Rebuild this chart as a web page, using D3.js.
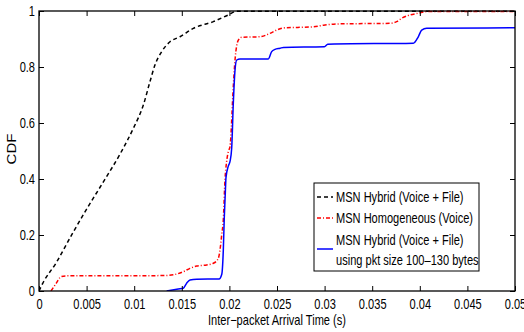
<!DOCTYPE html>
<html>
<head>
<meta charset="utf-8">
<script src="https://cdn.jsdelivr.net/npm/d3@7"></script>
<style>
  html, body { margin: 0; padding: 0; background: #fff; }
  svg { display: block; }
  text { font-family: "Liberation Sans", Arial, Helvetica, sans-serif; fill: #000; }
</style>
</head>
<body>
<svg id="chart" width="524" height="332"></svg>
<script>
// Inter-packet arrival time CDFs (seconds, cumulative fraction)
const hybridX = [0, 0.00039, 0.00179, 0.00354, 0.00494, 0.00669, 0.00856, 0.00991, 0.01096, 0.01166, 0.01218, 0.01289, 0.01376, 0.01481, 0.01621, 0.01831, 0.01989, 0.02077, 0.05];
const hybridY = [0, 0.0275, 0.1, 0.207, 0.289, 0.386, 0.492, 0.581, 0.664, 0.748, 0.807, 0.855, 0.890, 0.908, 0.938, 0.962, 0.986, 0.999, 0.999];

const homogX = [0.00126, 0.0018, 0.00231, 0.0028, 0.0130, 0.0141, 0.01516, 0.01586, 0.01656, 0.01761, 0.01831, 0.01884, 0.01901, 0.01919, 0.01936, 0.01954, 0.0197, 0.0199, 0.02006, 0.02041, 0.02059, 0.02094, 0.02129, 0.02321, 0.02426, 0.02497, 0.02584, 0.02864, 0.03004, 0.03162, 0.03687, 0.03757, 0.0381, 0.03897, 0.03984, 0.04072, 0.05];
const homogY = [0, 0.027, 0.051, 0.054, 0.055, 0.058, 0.069, 0.081, 0.089, 0.093, 0.099, 0.117, 0.146, 0.2, 0.254, 0.40, 0.46, 0.50, 0.515, 0.73, 0.825, 0.896, 0.906, 0.908, 0.92, 0.932, 0.94, 0.943, 0.95, 0.954, 0.956, 0.962, 0.974, 0.986, 0.992, 0.998, 0.998];

const smallPktX = [0.01341, 0.01463, 0.01516, 0.01551, 0.01586, 0.01657, 0.01891, 0.0192, 0.01936, 0.01946, 0.01957, 0.01964, 0.01989, 0.02006, 0.02024, 0.02041, 0.02059, 0.02077, 0.02111, 0.02409, 0.02444, 0.02479, 0.02532, 0.02567, 0.02998, 0.03033, 0.03105, 0.03932, 0.03984, 0.0402, 0.04072, 0.05];
const smallPktY = [0, 0.007, 0.01, 0.028, 0.039, 0.042, 0.043, 0.06, 0.146, 0.26, 0.35, 0.405, 0.447, 0.462, 0.51, 0.67, 0.789, 0.825, 0.829, 0.829, 0.855, 0.863, 0.867, 0.870, 0.8725, 0.881, 0.882, 0.885, 0.908, 0.932, 0.938, 0.94];

const xTicks = [0, 0.005, 0.01, 0.015, 0.02, 0.025, 0.03, 0.035, 0.04, 0.045, 0.05];
const xTickLabels = ["0", "0.005", "0.01", "0.015", "0.02", "0.025", "0.03", "0.035", "0.04", "0.045", "0.05"];
const yTicks = [0, 0.2, 0.4, 0.6, 0.8, 1];
const yTickLabels = ["0", "0.2", "0.4", "0.6", "0.8", "1"];

const seriesNames = ["MSN Hybrid (Voice + File)", "MSN Homogeneous (Voice)", "MSN Hybrid (Voice + File)"];
const seriesSubNames = ["", "", "using pkt size 100\u2013130 bytes"];

const series = [
  { xs: hybridX, ys: hybridY, color: "#000000", dash: "4,3" },
  { xs: homogX, ys: homogY, color: "#ff0000", dash: "4,2,1,2" },
  { xs: smallPktX, ys: smallPktY, color: "#0000ff", dash: null }
];

const svg = d3.select("#chart");
const plotL = 39, plotR = 515, plotT = 11, plotB = 291;
const fontSize = 14;
const squeeze = 0.79;   // condensed lettering

const x = d3.scaleLinear().domain([0, 0.05]).range([plotL, plotR]);
const y = d3.scaleLinear().domain([0, 1]).range([plotB, plotT]);

// curves, clipped to the frame
svg.append("clipPath").attr("id", "plotClip")
  .append("rect").attr("x", plotL).attr("y", plotT - 1).attr("width", plotR - plotL).attr("height", plotB - plotT + 1);

const line = d3.line()
  .x(d => x(d[0]))
  .y(d => y(d[1]))
  .curve(d3.curveMonotoneX);

const plot = svg.append("g").attr("clip-path", "url(#plotClip)");
series.forEach(s => {
  const pts = s.xs.map((v, i) => [v, s.ys[i]]);
  plot.append("path")
    .attr("d", line(pts))
    .attr("fill", "none")
    .attr("stroke", s.color)
    .attr("stroke-width", 1.5)
    .attr("stroke-dasharray", s.dash);
});

// axes with inward ticks on all four sides
const tickLen = 5;
const fmtX = (d, i) => xTickLabels[i];
const fmtY = (d, i) => yTickLabels[i];

const axBottom = svg.append("g").attr("transform", `translate(0,${plotB})`)
  .call(d3.axisBottom(x).tickValues(xTicks).tickFormat(fmtX).tickSizeInner(-tickLen).tickSizeOuter(0).tickPadding(8));
const axTop = svg.append("g").attr("transform", `translate(0,${plotT})`)
  .call(d3.axisTop(x).tickValues(xTicks).tickFormat("").tickSizeInner(-tickLen).tickSizeOuter(0));
const axLeft = svg.append("g").attr("transform", `translate(${plotL},0)`)
  .call(d3.axisLeft(y).tickValues(yTicks).tickFormat(fmtY).tickSizeInner(-tickLen).tickSizeOuter(0).tickPadding(4));
const axRight = svg.append("g").attr("transform", `translate(${plotR},0)`)
  .call(d3.axisRight(y).tickValues(yTicks).tickFormat("").tickSizeInner(-tickLen).tickSizeOuter(0));

[axBottom, axTop, axLeft, axRight].forEach(g => {
  g.select(".domain").remove();
  g.selectAll(".tick line").attr("stroke", "#000").attr("stroke-width", 1);
  g.selectAll(".tick text").attr("font-size", fontSize).attr("font-family", null).attr("fill", "#000");
});

// condense tick labels around their anchor points
axBottom.selectAll(".tick text").attr("transform", `scale(${squeeze},1)`);
axLeft.selectAll(".tick text").each(function () {
  const t = d3.select(this);
  const tx = +t.attr("x");
  t.attr("x", 0).attr("transform", `translate(${tx},0) scale(${squeeze},1)`);
});

// frame
svg.append("rect")
  .attr("x", plotL).attr("y", plotT)
  .attr("width", plotR - plotL).attr("height", plotB - plotT)
  .attr("fill", "none").attr("stroke", "#000").attr("stroke-width", 1.3);

// axis titles
svg.append("text")
  .attr("transform", `translate(${(plotL + plotR) / 2},325) scale(${squeeze},1)`)
  .attr("text-anchor", "middle").attr("font-size", fontSize)
  .text("Inter\u2212packet Arrival Time (s)");

svg.append("text")
  .attr("transform", `translate(16,149) rotate(-90) scale(1,${squeeze})`)
  .attr("text-anchor", "middle").attr("font-size", 15)
  .text("CDF");

// legend
const lg = svg.append("g");
lg.append("rect")
  .attr("x", 314).attr("y", 183).attr("width", 165).attr("height", 88)
  .attr("fill", "#fff").attr("stroke", "#000").attr("stroke-width", 1);

const rowY = [197, 218, 240];
const sampleY = [197, 218, 249];
const addLegendText = (ty, str) => lg.append("text")
  .attr("transform", `translate(336,${ty}) scale(${squeeze},1)`)
  .attr("dy", "0.36em")
  .attr("font-size", fontSize)
  .text(str);

series.forEach((s, i) => {
  lg.append("line")
    .attr("x1", 317).attr("x2", 333)
    .attr("y1", sampleY[i]).attr("y2", sampleY[i])
    .attr("stroke", s.color).attr("stroke-width", 1.5)
    .attr("stroke-dasharray", s.dash);
  addLegendText(rowY[i], seriesNames[i]);
  if (seriesSubNames[i]) addLegendText(rowY[i] + 20, seriesSubNames[i]);
});
</script>
</body>
</html>
